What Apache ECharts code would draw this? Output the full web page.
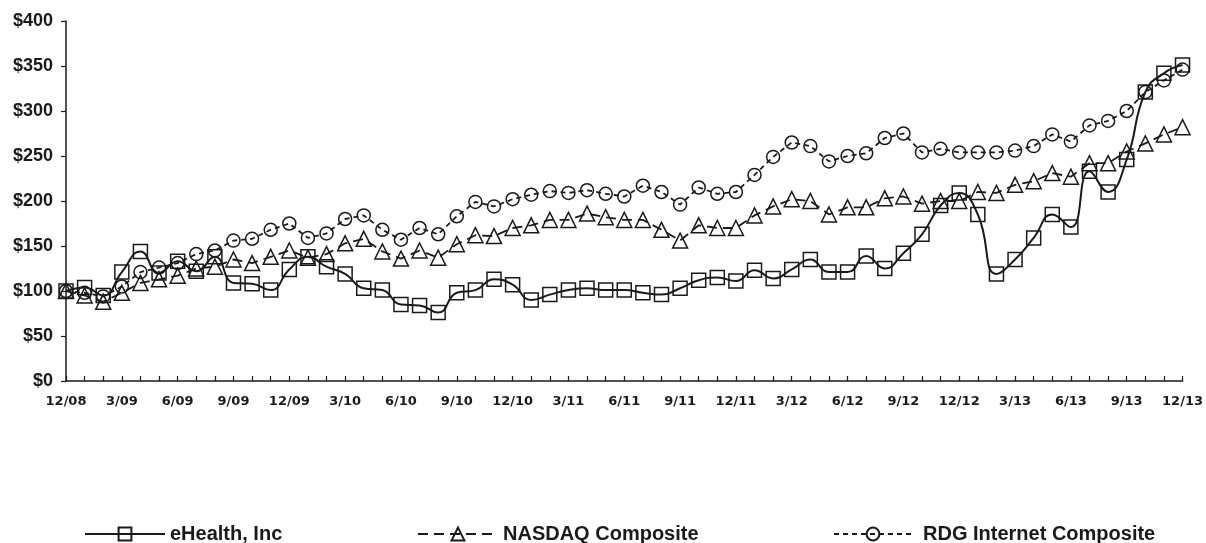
<!DOCTYPE html>
<html><head><meta charset="utf-8">
<script src="https://cdn.jsdelivr.net/npm/echarts@6/dist/echarts.min.js"></script>
<style>html,body{margin:0;padding:0;background:#fff}#c{width:1206px;height:543px}</style>
</head><body><div id="c"></div>
<script>
const months = [];
(function(){ const yrs=['08','09','10','11','12','13']; months.push('12/08'); for(let y=1;y<yrs.length;y++){ for(let m=1;m<=12;m++){ months.push(m+'/'+yrs[y]); } } })();
const yTickLabels = ['$0','$50','$100','$150','$200','$250','$300','$350','$400'];
const eHealth = [100,104,95,121,144,120,133,122,138,109,108,101,124,138,127,119,103,101,85,84,76,98,101,113,107,90,96,101,103,101,101,98,96,103,112,115,111,123,114,124,135,121,121,139,125,142,163,195,209,185,119,135,159,185,171,233,210,246,321,342,351];
const nasdaq = [100,95,88,98,109,113,117,125,127,135,131,138,145,137,141,153,158,144,136,145,137,152,162,161,170,173,179,179,186,182,179,179,168,156,173,170,170,184,194,202,200,185,193,193,203,205,197,200,200,210,209,218,222,231,227,242,242,255,264,274,282];
const rdg = [100,98,94,105,121,126,131,141,145,156,158,168,175,159,164,180,184,168,157,170,163,183,199,194,202,207,211,209,212,208,205,217,210,196,215,208,210,229,249,265,261,244,250,253,270,275,254,258,254,254,254,256,261,274,266,284,289,300,321,334,346];
const seriesNames = ['eHealth, Inc','NASDAQ Composite','RDG Internet Composite'];

const font = '"Liberation Sans", Arial, sans-serif';
const ink = '#1a1a1a';
const chart = echarts.init(document.getElementById('c'));
function mk(name, data, symbol, size, dash, width, smooth){
  return {name, type:'line', data, symbol, symbolSize:size, smooth, showSymbol:true, showAllSymbol:true,
    lineStyle:{color:ink, width, type:dash},
    itemStyle:{color:'rgba(255,255,255,0)', borderColor:ink, borderWidth:1.5},
    emphasis:{disabled:true}, animation:false, z: 2};
}
const legText = {fontFamily:font, fontWeight:'bold', fontSize:20, color:ink};
chart.setOption({
  animation:false,
  grid:{left:66, right:22, top:21, bottom:162, containLabel:false},
  xAxis:{type:'category', data:months, boundaryGap:false,
    axisLine:{lineStyle:{color:ink, width:1.5}},
    axisTick:{inside:true, length:5, interval:0, lineStyle:{color:ink, width:1.2}},
    axisLabel:{interval:2, margin:14, fontFamily:'"DejaVu Sans", sans-serif', fontWeight:'bold', fontSize:13, color:ink},
    splitLine:{show:false}},
  yAxis:{type:'value', min:0, max:400, interval:50,
    axisLine:{show:true, lineStyle:{color:ink, width:1.5}},
    axisTick:{show:true, length:5, lineStyle:{color:ink, width:1.2}},
    axisLabel:{margin:13, fontFamily:font, fontWeight:'bold', fontSize:18, color:ink,
      formatter:(v)=>yTickLabels[Math.round(v/50)]},
    splitLine:{show:false}},
  legend:[
    {data:[seriesNames[0]], left:84, top:524, padding:0, itemWidth:80, itemHeight:16, itemGap:0, textStyle:legText},
    {data:[seriesNames[1]], left:417, top:524, padding:0, itemWidth:80, itemHeight:16, itemGap:0, textStyle:legText},
    {data:[seriesNames[2]], left:833, top:524, padding:0, itemWidth:78, itemHeight:16, itemGap:0, textStyle:Object.assign({padding:[0,0,0,6]}, legText)}
  ],
  series:[
    mk(seriesNames[2], rdg, 'circle', 13, [5,4], 1.8, false),
    mk(seriesNames[1], nasdaq, 'triangle', 15, [10,6], 1.8, false),
    mk(seriesNames[0], eHealth, 'rect', 14, 'solid', 2, 0.5)
  ]
});
</script></body></html>
